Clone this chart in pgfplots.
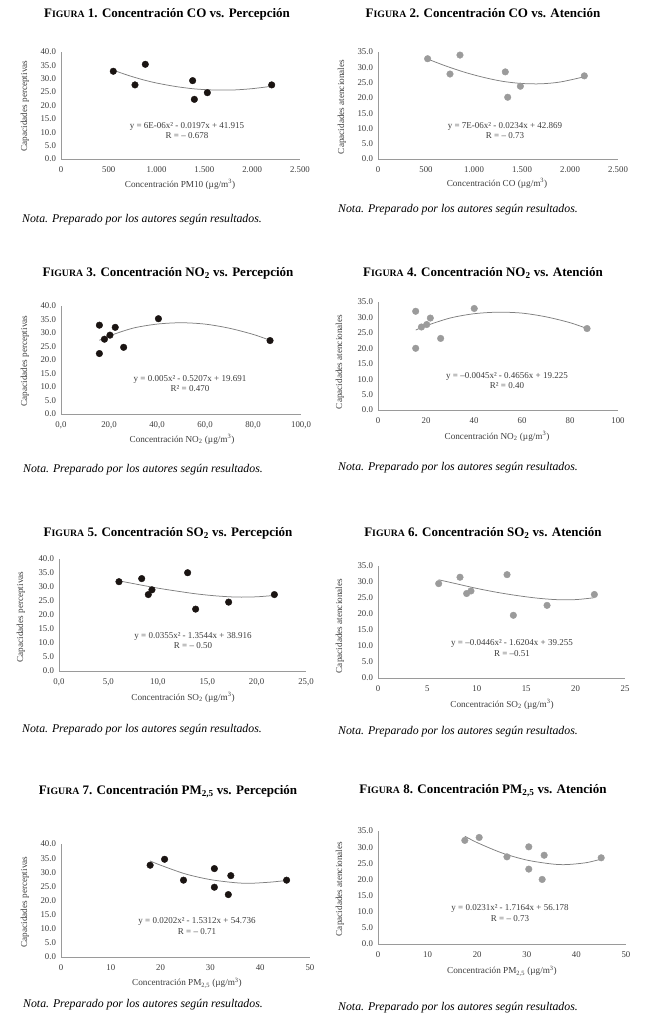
\documentclass[border=0pt]{standalone}
\usepackage{fontspec}
\setmainfont{Liberation Serif}
\usepackage{pgfplots}
\pgfplotsset{compat=1.18}
\definecolor{dotblack}{HTML}{1A1412}
\definecolor{dotgray}{HTML}{9B9B9B}
\definecolor{trend}{HTML}{7F7F7F}
\definecolor{axisgray}{HTML}{9A9A9A}
\definecolor{txt}{HTML}{3C3C3C}
\newcommand{\fig}[2]{F{\fontsize{9.8}{11}\selectfont IGURA} #1. #2}
\newcommand{\titlefont}{\fontsize{13}{15}\selectfont\bfseries}
\newcommand{\notafont}{\fontsize{11.8}{14}\selectfont\itshape}
\newcommand{\lblfont}{\fontsize{9.2}{11}\selectfont}
\newcommand{\eqfont}{\fontsize{9}{11}\selectfont}
\newcommand{\nota}{Nota. Preparado por los autores según resultados.}
\pgfplotsset{
  base/.style={scale only axis, clip=false, enlargelimits=false,
    axis x line*=bottom, axis y line*=left,
    axis line style={-, draw=axisgray, line width=0.7pt},
    major tick length=0pt, tick style={draw=none},
    ymin=0, ytick distance=5,
    /pgf/number format/assume math mode=true,
    ticklabel style={font=\fontsize{8.8}{10}\selectfont, text=txt},
    yticklabel style={/pgf/number format/fixed, /pgf/number format/fixed zerofill, /pgf/number format/precision=1, xshift=-1.5pt},
    xticklabel style={yshift=-4pt},
    anchor=south west},
  perc/.style={base, ymax=40},
  aten/.style={base, ymax=35},
  dotsB/.style={only marks, mark=*, mark size=3.3pt, color=dotblack},
  dotsG/.style={only marks, mark=*, mark size=3.3pt, color=dotgray},
  trendl/.style={no marks, smooth, trend, line width=0.75pt},
}
\begin{document}
\begin{tikzpicture}
\path[use as bounding box] (0,0) rectangle (650pt,-1029pt);

% ---------- Figura 1 ----------
\node[font=\titlefont] at (167pt,-14pt) {\fig{1}{Concentración CO vs. Percepción}};
\begin{axis}[perc, at={(61pt,-159pt)}, width=239pt, height=107pt,
  xmin=0, xmax=2500, xtick={0,500,...,2500},
  xticklabel style={/pgf/number format/1000 sep={.}}]
\addplot[trendl] coordinates {(547,33.2) (700,31.3) (850,29.7) (1000,28.4) (1200,27.1) (1400,26.2) (1600,25.8) (1800,25.8) (2000,26.3) (2204,27.2)};
\addplot[dotsB] coordinates {(547,32.8) (774,27.7) (882,35.4) (1377,29.3) (1395,22.3) (1531,24.8) (2204,27.7)};
\end{axis}
\node[rotate=90, font=\lblfont, text=txt] at (25pt,-106pt) {Capacidades perceptivas};
\node[font=\lblfont, text=txt] at (180pt,-184pt) {Concentración PM10 (µg/m\textsuperscript{3})};
\node[font=\eqfont, text=txt] at (187pt,-126pt) {y = 6E-06x² - 0.0197x + 41.915};
\node[font=\eqfont, text=txt] at (187pt,-136pt) {R = – 0.678};
\node[anchor=west, font=\notafont, inner sep=0] at (22pt,-220pt) {\nota};

% ---------- Figura 2 ----------
\node[font=\titlefont] at (483pt,-13pt) {\fig{2}{Concentración CO vs. Atención}};
\begin{axis}[aten, at={(378pt,-159pt)}, width=240pt, height=107pt,
  xmin=0, xmax=2500, xtick={0,500,...,2500},
  xticklabel style={/pgf/number format/1000 sep={.}}]
\addplot[trendl] coordinates {(517,32.7) (700,30.5) (900,28.4) (1100,26.7) (1300,25.4) (1500,24.7) (1700,24.6) (1900,25.2) (2149,26.9)};
\addplot[dotsG] coordinates {(517,32.8) (750,27.8) (854,34.0) (1326,28.5) (1351,20.2) (1483,23.8) (2149,27.2)};
\end{axis}
\node[rotate=90, font=\lblfont, text=txt] at (342pt,-107pt) {Capacidades atencionales};
\node[font=\lblfont, text=txt] at (497pt,-183pt) {Concentración CO (µg/m\textsuperscript{3})};
\node[font=\eqfont, text=txt] at (505pt,-126pt) {y = 7E-06x² - 0.0234x + 42.869};
\node[font=\eqfont, text=txt] at (505pt,-136pt) {R = – 0.73};
\node[anchor=west, font=\notafont, inner sep=0] at (338pt,-210pt) {\nota};

% ---------- Figura 3 ----------
\node[font=\titlefont] at (168pt,-273pt) {\fig{3}{Concentración NO\textsubscript{2} vs. Percepción}};
\begin{axis}[perc, at={(61pt,-414pt)}, width=240pt, height=108pt,
  xmin=0, xmax=100, xtick={0,20,...,100},
  xticklabel style={/pgf/number format/fixed, /pgf/number format/fixed zerofill, /pgf/number format/precision=1, /pgf/number format/use comma}]
\addplot[trendl] coordinates {(16,27.3) (20,28.9) (30,31.8) (40,33.3) (50,33.8) (60,33.3) (70,31.8) (80,29.5) (87.1,27.3)};
\addplot[dotsB] coordinates {(16.0,32.9) (16.0,22.4) (18.1,27.7) (20.4,29.2) (22.6,32.1) (26.1,24.7) (40.6,35.3) (87.1,27.2)};
\end{axis}
\node[rotate=90, font=\lblfont, text=txt] at (25pt,-361pt) {Capacidades perceptivas};
\node[font=\lblfont, text=txt] at (182pt,-439pt) {Concentración NO\textsubscript{2} (µg/m\textsuperscript{3})};
\node[font=\eqfont, text=txt] at (190pt,-379pt) {y = 0.005x² - 0.5207x + 19.691};
\node[font=\eqfont, text=txt] at (190pt,-389pt) {R² = 0.470};
\node[anchor=west, font=\notafont, inner sep=0] at (23pt,-470pt) {\nota};

% ---------- Figura 4 ----------
\node[font=\titlefont] at (483pt,-273pt) {\fig{4}{Concentración NO\textsubscript{2} vs. Atención}};
\begin{axis}[aten, at={(378pt,-410pt)}, width=240pt, height=108pt,
  xmin=0, xmax=100, xtick={0,20,...,100}]
\addplot[trendl] coordinates {(15.7,25.9) (20,27.3) (30,29.8) (40,31.2) (50,31.7) (60,31.4) (70,30.2) (80,28.3) (87.1,26.4)};
\addplot[dotsG] coordinates {(15.7,32.0) (15.7,20.0) (18.1,26.9) (20.3,27.7) (21.8,29.8) (26.1,23.2) (40.1,32.9) (87.1,26.4)};
\end{axis}
\node[rotate=90, font=\lblfont, text=txt] at (340pt,-362pt) {Capacidades atencionales};
\node[font=\lblfont, text=txt] at (497pt,-436pt) {Concentración NO\textsubscript{2} (µg/m\textsuperscript{3})};
\node[font=\eqfont, text=txt] at (507pt,-376pt) {y = –0.0045x² - 0.4656x + 19.225};
\node[font=\eqfont, text=txt] at (507pt,-386pt) {R² = 0.40};
\node[anchor=west, font=\notafont, inner sep=0] at (338pt,-468pt) {\nota};

% ---------- Figura 5 ----------
\node[font=\titlefont] at (168pt,-533pt) {\fig{5}{Concentración SO\textsubscript{2} vs. Percepción}};
\begin{axis}[perc, at={(59pt,-671pt)}, width=247pt, height=112pt,
  xmin=0, xmax=25, xtick={0,5,...,25},
  xticklabel style={/pgf/number format/fixed, /pgf/number format/fixed zerofill, /pgf/number format/precision=1, /pgf/number format/use comma}]
\addplot[trendl] coordinates {(6.07,32.2) (8,30.9) (10,29.6) (12,28.5) (14,27.5) (16,26.8) (18,26.4) (20,26.5) (21.8,27.0)};
\addplot[dotsB] coordinates {(6.07,31.9) (8.37,33.0) (9.04,27.3) (9.41,29.0) (13.02,35.1) (13.83,22.1) (17.17,24.6) (21.8,27.3)};
\end{axis}
\node[rotate=90, font=\lblfont, text=txt] at (21pt,-617pt) {Capacidades perceptivas};
\node[font=\lblfont, text=txt] at (183pt,-697pt) {Concentración SO\textsubscript{2} (µg/m\textsuperscript{3})};
\node[font=\eqfont, text=txt] at (193pt,-636pt) {y = 0.0355x² - 1.3544x + 38.916};
\node[font=\eqfont, text=txt] at (193pt,-646pt) {R = – 0.50};
\node[anchor=west, font=\notafont, inner sep=0] at (22pt,-730pt) {\nota};

% ---------- Figura 6 ----------
\node[font=\titlefont] at (483pt,-533pt) {\fig{6}{Concentración SO\textsubscript{2} vs. Atención}};
\begin{axis}[aten, at={(378pt,-678pt)}, width=247pt, height=112pt,
  xmin=0, xmax=25, xtick={0,5,...,25}]
\addplot[trendl] coordinates {(6.14,30.7) (8,29.4) (10,28.0) (12,26.8) (14,25.8) (16,25.0) (18,24.5) (20,24.5) (21.9,25.1)};
\addplot[dotsG] coordinates {(6.14,29.5) (8.30,31.5) (8.97,26.4) (9.41,27.2) (13.06,32.3) (13.70,19.6) (17.11,22.7) (21.9,26.1)};
\end{axis}
\node[rotate=90, font=\lblfont, text=txt] at (340pt,-626pt) {Capacidades atencionales};
\node[font=\lblfont, text=txt] at (502pt,-704pt) {Concentración SO\textsubscript{2} (µg/m\textsuperscript{3})};
\node[font=\eqfont, text=txt] at (512pt,-643pt) {y = –0.0446x² - 1.6204x + 39.255};
\node[font=\eqfont, text=txt] at (512pt,-654pt) {R = –0.51};
\node[anchor=west, font=\notafont, inner sep=0] at (338pt,-732pt) {\nota};

% ---------- Figura 7 ----------
\node[font=\titlefont] at (168pt,-792pt) {\fig{7}{Concentración PM\textsubscript{2,5} vs. Percepción}};
\begin{axis}[perc, at={(61pt,-957pt)}, width=249pt, height=113pt,
  xmin=0, xmax=50, xtick={0,10,...,50}]
\addplot[trendl] coordinates {(17.9,34.0) (20,32.5) (25,29.4) (30,27.4) (35,26.3) (38,26.1) (42,26.5) (45.3,27.1)};
\addplot[dotsB] coordinates {(17.9,32.5) (20.8,34.6) (24.6,27.2) (30.8,31.3) (30.8,24.7) (33.6,22.1) (34.1,28.8) (45.3,27.2)};
\end{axis}
\node[rotate=90, font=\lblfont, text=txt] at (25pt,-902pt) {Capacidades perceptivas};
\node[font=\lblfont, text=txt] at (187pt,-983pt) {Concentración PM\textsubscript{2,5} (µg/m\textsuperscript{3})};
\node[font=\eqfont, text=txt] at (197pt,-921pt) {y = 0.0202x² - 1.5312x + 54.736};
\node[font=\eqfont, text=txt] at (197pt,-932pt) {R = – 0.71};
\node[anchor=west, font=\notafont, inner sep=0] at (23pt,-1005pt) {\nota};

% ---------- Figura 8 ----------
\node[font=\titlefont] at (483pt,-791pt) {\fig{8}{Concentración PM\textsubscript{2,5} vs. Atención}};
\begin{axis}[aten, at={(378pt,-944pt)}, width=248pt, height=113pt,
  xmin=0, xmax=50, xtick={0,10,...,50}]
\addplot[trendl] coordinates {(17.5,33.4) (20,31.4) (25,28.2) (30,26.0) (35,24.8) (38,24.6) (42,25.2) (45,26.3)};
\addplot[dotsG] coordinates {(17.5,32.1) (20.4,33.0) (26.0,27.0) (30.4,30.1) (30.4,23.2) (33.1,20.0) (33.5,27.5) (45.0,26.7)};
\end{axis}
\node[rotate=90, font=\lblfont, text=txt] at (340pt,-889pt) {Capacidades atencionales};
\node[font=\lblfont, text=txt] at (502pt,-971pt) {Concentración PM\textsubscript{2,5} (µg/m\textsuperscript{3})};
\node[font=\eqfont, text=txt] at (510pt,-908pt) {y = 0.0231x² - 1.7164x + 56.178};
\node[font=\eqfont, text=txt] at (510pt,-919pt) {R = – 0.73};
\node[anchor=west, font=\notafont, inner sep=0] at (338pt,-1008pt) {\nota};
\end{tikzpicture}
\end{document}
